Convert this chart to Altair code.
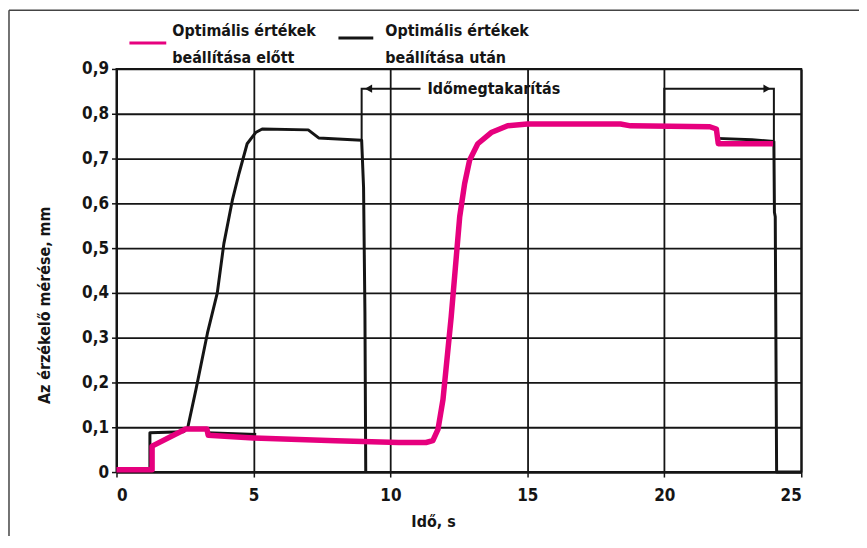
import altair as alt
import pandas as pd

# ---- data ----
pink_x = [0, 1.3, 1.3, 2.53, 3.3, 3.35, 5.0, 8.0, 10.3, 11.3, 11.55, 11.74, 11.92, 12.22,
          12.53, 12.71, 12.89, 13.19, 13.68, 14.28, 15.0, 18.4, 18.77, 21.66, 21.9, 21.97, 23.97]
pink_y = [0.005, 0.005, 0.058, 0.096, 0.096, 0.082, 0.076, 0.07, 0.066, 0.066, 0.07, 0.096, 0.162, 0.347,
          0.57, 0.644, 0.696, 0.733, 0.758, 0.773, 0.777, 0.777, 0.773, 0.771, 0.766, 0.733, 0.733]

black1_x = [0, 1.22, 1.22, 2.45, 2.6, 2.9, 3.32, 3.68, 3.92, 4.23, 4.47, 4.77, 5.08, 5.32,
            7.0, 7.38, 8.95, 9.02, 9.07, 9.1]
black1_y = [0.005, 0.005, 0.088, 0.09, 0.099, 0.184, 0.31, 0.40, 0.51, 0.607, 0.666, 0.733, 0.758, 0.766,
            0.764, 0.746, 0.741, 0.636, 0.355, 0.0]
black2_x = [3.3, 5.1]
black2_y = [0.088, 0.084]
black3_x = [21.95, 23.2, 24.0, 24.02, 24.05, 24.1, 25.0]
black3_y = [0.745, 0.742, 0.738, 0.58, 0.57, 0.0, 0.0]

arrow1_x = [11.1, 8.95, 8.95]
arrow1_y = [0.856, 0.856, 0.74]
arrow2_x = [20.0, 20.0, 24.0, 24.0]
arrow2_y = [0.80, 0.856, 0.856, 0.74]
head_x = [9.2, 23.75]
head_y = [0.856, 0.856]
head_shape = ["triangle-left", "triangle-right"]

annot_text = "Időmegtakarítás"
annot_x = [11.35]
annot_y = [0.856]

legend_labels = ["Optimális értékek\nbeállítása előtt", "Optimális értékek\nbeállítása után"]
x_ticks = [0, 5, 10, 15, 20, 25]
y_ticks = [0, 0.1, 0.2, 0.3, 0.4, 0.5, 0.6, 0.7, 0.8, 0.9]
x_title = "Idő, s"
y_title = "Az érzékelő mérése, mm"

FONT = "DejaVu Sans Condensed, Liberation Sans Narrow, sans-serif"
PINK = "#e6007e"
INK = "#151515"
TXT = 16


def seg(xs, ys, name):
    return pd.DataFrame({"t": xs, "v": ys, "seg": name, "ord": list(range(len(xs)))})


black_df = pd.concat([seg(black1_x, black1_y, "b1"), seg(black2_x, black2_y, "b2"),
                      seg(black3_x, black3_y, "b3")], ignore_index=True)
pink_df = seg(pink_x, pink_y, "p")
arrow_df = pd.concat([seg(arrow1_x, arrow1_y, "a1"), seg(arrow2_x, arrow2_y, "a2")], ignore_index=True)
head_df = pd.DataFrame({"t": head_x, "v": head_y, "shape": head_shape})
annot_df = pd.DataFrame({"t": annot_x, "v": annot_y, "label": [annot_text]})
dummy = pd.DataFrame({"a": [0]})

xscale = alt.Scale(domain=[0, 25], nice=False, zero=False)
yscale = alt.Scale(domain=[0, 0.9], nice=False)
xaxis = alt.Axis(values=x_ticks, title=x_title, grid=True, labelBaseline="middle",
                 labelPadding=19, titleX=318, titleY=50, titleBaseline="middle")
yaxis = alt.Axis(values=y_ticks, title=y_title, grid=True, labelPadding=3,
                 labelExpr="datum.value == 0 ? '0' : replace(format(datum.value, '.1f'), '.', ',')",
                 titleX=-72, titleY=237, titleBaseline="middle")
X = alt.X("t:Q", scale=xscale, axis=xaxis)
Y = alt.Y("v:Q", scale=yscale, axis=yaxis)

black = alt.Chart(black_df).mark_line(color=INK, strokeWidth=3, strokeJoin="round").encode(
    x=X, y=Y, detail="seg:N", order="ord:Q")
pink = alt.Chart(pink_df).mark_line(color=PINK, strokeWidth=5.5, strokeJoin="round").encode(
    x=X, y=Y, order="ord:Q")
arrows = alt.Chart(arrow_df).mark_line(color=INK, strokeWidth=2).encode(
    x=X, y=Y, detail="seg:N", order="ord:Q")
heads = alt.Chart(head_df).mark_point(filled=True, color=INK, size=70, opacity=1).encode(
    x=X, y=Y, shape=alt.Shape("shape:N", scale=None))
annot = alt.Chart(annot_df).mark_text(align="left", baseline="middle", font=FONT, fontSize=TXT,
                                      fontWeight="bold", color=INK).encode(x=X, y=Y, text="label:N")

leg_p_line = alt.Chart(dummy).mark_rule(color=PINK, strokeWidth=3).encode(
    x=alt.value(13), x2=alt.value(50), y=alt.value(-26))
leg_b_line = alt.Chart(dummy).mark_rule(color=INK, strokeWidth=3).encode(
    x=alt.value(223), x2=alt.value(258), y=alt.value(-31))
leg_p_text = alt.Chart(dummy).mark_text(text=legend_labels[0], lineBreak="\n", align="left",
                                        baseline="alphabetic", font=FONT, fontSize=TXT, fontWeight="bold",
                                        lineHeight=27, color=INK).encode(x=alt.value(56), y=alt.value(-33))
leg_b_text = alt.Chart(dummy).mark_text(text=legend_labels[1], lineBreak="\n", align="left",
                                        baseline="alphabetic", font=FONT, fontSize=TXT, fontWeight="bold",
                                        lineHeight=27, color=INK).encode(x=alt.value(270), y=alt.value(-33))

frame_top = alt.Chart(dummy).mark_rule(color="#444", strokeWidth=1.5).encode(
    x=alt.value(-108), x2=alt.value(750), y=alt.value(-59))
frame_left = alt.Chart(dummy).mark_rule(color="#444", strokeWidth=1.5).encode(
    x=alt.value(-108), y=alt.value(-59), y2=alt.value(470))

chart = alt.layer(black, pink, arrows, heads, annot, leg_p_line, leg_b_line, leg_p_text, leg_b_text,
                  frame_top, frame_left).properties(
    width=688, height=405,
    autosize=alt.AutoSizeParams(type="none"),
    padding={"left": 109, "top": 60, "right": 58, "bottom": 63},
    background="white",
).configure_axis(
    labelFont=FONT, labelFontSize=17, labelFontWeight="bold", labelColor=INK,
    titleFont=FONT, titleFontSize=TXT, titleFontWeight="bold", titleColor=INK,
    gridColor=INK, gridWidth=1.8, gridOpacity=1,
    domainColor=INK, domainWidth=2, tickColor=INK, tickWidth=1.5, tickSize=5,
).configure_view(stroke=INK, strokeWidth=2)

chart.save("out.html", embed_options={"renderer": "svg", "actions": False})
